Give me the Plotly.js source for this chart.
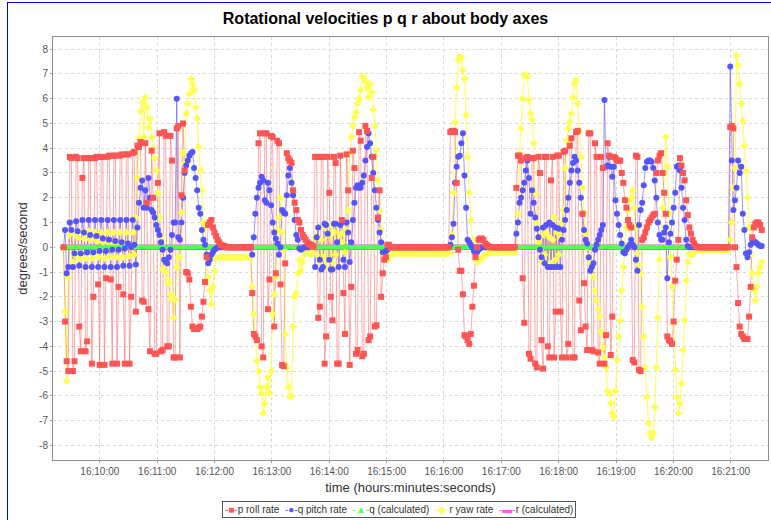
<!DOCTYPE html>
<html><head><meta charset="utf-8">
<script src="https://cdn.plot.ly/plotly-3.0.1.min.js"></script>
<style>
html,body{margin:0;padding:0;background:#fff;}
#chart{position:absolute;left:0;top:0;width:771px;height:520px;}
#frame{position:absolute;left:7px;top:2px;width:764px;height:518px;border-left:1px solid #0000ff;border-top:1px solid #0000ff;pointer-events:none;box-sizing:border-box;}
</style></head>
<body><div id="chart"></div><div id="frame"></div>
<script>
// sample clock: seconds after 16:00:00, one logged sample every ~1.65 s
const sampleStart = 562;
const sampleInterval = 1.645;

const pRollRate = [
 0,-3.0,-4.6,-5.0,3.65,3.6,-5.0,-4.6,3.65,3.6,-3.2,-4.2,2.8,3.6,-4.2,-3.8,3.6,3.6,-4.7,-2.0,
 3.6,3.65,-1.5,-4.75,3.65,3.65,-4.75,-1.25,3.65,3.7,-1.3,-4.7,3.7,3.7,-4.7,-1.6,3.7,3.75,-1.9,-4.7,
 3.75,3.75,-4.7,-2.0,3.8,3.85,-2.6,4.1,
 4.05,4.25,-2.15,-2.2,4.2,1.8,-2.5,-4.2,3.9,2.0,-4.3,-4.3,2.6,4.6,-4.2,-4.15,4.65,4.5,-4.0,-4.0,
 4.5,3.5,-4.45,-4.45,4.8,4.9,-4.45,2.1,5.0,3.1,-1.0,-1.05,-1.3,-2.4,-3.2,-3.3,-3.3,-3.3,-3.25,-3.2,
 -2.8,-2.2,-1.4,-0.4,0.9,1.0,1.1,0.8,0.6,0.45,0.3,0.2,0.1,0.08,
 0.05,0.03,0,0,0,0,0,0,0,0,0,0,0,0,0,0,
 0,0,-1.85,-3.5,-3.6,-3.75,4.2,4.6,-4.0,-4.45,4.6,4.6,-2.5,-1.3,4.5,4.45,-3.2,-1.05,4.3,4.2,
 -1.5,-4.75,-4.8,-0.65,3.8,3.6,3.5,3.4,2.3,1.8,1.5,1.1,1.0,0.7,0.5,0.4,0.3,0.2,0.15,0.1,0.05,0.02,
 3.65,3.65,-2.85,-2.4,3.65,3.65,-4.7,-3.6,3.65,2.2,-2.0,-2.95,3.65,3.4,-4.7,-4.7,3.7,1.1,-1.85,-3.5,
 3.75,2.3,-4.75,-1.6,3.9,3.2,-4.3,-4.15,4.65,4.3,-4.4,-4.3,4.9,4.7,-3.75,-3.6,2.8,3.65,-3.2,-3.15,
 1.2,2.3,-2.0,-1.05,-0.5,-0.4,0.1,0.1,0,0,
 0,0,0,0,0,0,0,0,0,0,0,0,0,0,0,0,0,0,0,0,0,0,0,0,0,0,0,0,0,0,0,0,0,0,0,0,
 4.65,4.7,4.7,4.65,2.6,-0.1,-0.95,-0.95,-1.9,-3.55,-3.6,-3.75,-3.9,-3.5,-2.4,-1.55,-0.4,0.0,0.3,0.35,
 0.35,0.3,0.15,0.1,0.05,0.02,0,0,
 0,0,0,0,0,0,0,0,0,0,0,0,0,0,
 2.4,3.7,3.7,3.5,-1.25,-3.05,3.6,3.65,-4.3,-4.5,3.6,3.6,-4.7,-4.85,3.65,3.0,-3.75,-4.9,3.65,3.65,
 -4.0,-4.45,2.7,3.65,-4.45,-2.6,3.7,3.7,-2.6,-4.45,3.85,3.9,-4.45,-3.9,4.1,4.4,-4.45,-4.45,4.65,4.7,
 -2.15,-3.35,1.35,-1.45,-3.2,-4.15,4.6,4.6,-4.15,-4.2,4.2,3.65,-4.25,-4.7,3.65,3.2,
 -4.7,-3.55,4.2,3.7,-4.35,-2.8,3.65,3.6,3.5,3.5,3.5,3.0,2.6,1.9,1.6,1.1,0.9,0.8,-4.55,-4.65,
 3.7,3.65,-4.95,-5.0,0.3,0.4,0.6,0.8,1.0,1.1,1.2,1.3,1.35,3.0,3.5,3.7,3.8,3.0,2.2,1.35,
 -3.6,-3.75,-3.8,-3.9,-3.0,-1.35,-0.5,0.3,3.6,3.3,3.0,2.7,1.9,1.3,0.8,0.55,0.3,0.15,0.05,0.02,0,0,
 0,0,0,0,0,0,0,0,0,0,0,0,0,0,0,0,0,0,
 4.85,4.9,4.8,0.0,-0.8,-2.25,-3.2,-3.5,-3.6,-3.7,-3.7,-3.7,-2.8,-1.6,0.4,0.8,0.95,1.0,1.0,0.9,0.7
];

const qPitchRate = [
 0,0.7,-1.05,-0.8,1.0,0.7,-0.8,-0.25,1.05,0.65,-0.75,-0.25,1.1,0.6,-0.8,-0.2,1.1,0.5,-0.8,-0.2,
 1.1,0.45,-0.8,-0.15,1.1,0.35,-0.8,-0.15,1.1,0.3,-0.8,-0.1,1.1,0.25,-0.8,-0.1,1.1,0.2,-0.75,-0.05,
 1.1,0.15,-0.75,0.0,1.1,0.1,-0.7,0.8,
 1.8,2.4,2.7,1.6,2.3,1.6,2.8,2.0,1.5,1.4,1.2,0.9,0.7,0.5,0.2,-0.1,-0.5,-0.6,-0.65,-0.4,
 -0.1,0.5,1.0,1.0,6.0,0.4,0.3,1.0,2.0,3.0,3.3,3.5,3.7,3.8,3.85,3.2,2.8,2.3,1.6,1.35,
 0.7,0.3,0.1,-0.3,-0.65,-0.5,-0.3,-0.2,-0.1,-0.05,0,0,0,0,
 0,0,0,0,0,0,0,0,0,0,0,0,0,0,0,0,
 0,0,-0.3,0.4,1.35,2.0,2.4,2.6,2.85,2.7,1.9,1.8,2.6,2.3,1.7,1.0,0.6,0.35,0.15,-0.3,
 0,1.5,1.4,1.35,2.1,2.9,3.2,2.6,2.1,1.1,0.5,0.3,-0.05,-0.1,-0.05,0,0,0,0,0.05,0.1,0.05,
 -0.8,0.4,0.8,-0.5,-0.9,-0.8,0.95,0.9,0.55,-0.5,-0.9,-0.9,0.95,0.95,0.2,-0.8,0.9,1.0,-0.5,-0.8,
 1.0,0.6,-0.6,0.2,1.1,1.8,2.4,2.5,2.4,2.4,2.6,2.9,3.5,4.05,4.6,4.2,3.65,3.0,2.3,1.6,
 1.1,0.6,0.2,-0.2,-0.2,-0.15,-0.1,0,0,0,
 0,0,0,0,0,0,0,0,0,0,0,0,0,0,0,0,0,0,0,0,0,0,0,0,0,0,0,0,0,0,0,0,0,0,0,0,
 0.1,0.4,0.95,2.6,3.25,3.65,3.7,4.2,4.6,2.9,1.6,0.3,0.2,0.1,0,-0.15,-0.25,-0.2,-0.1,-0.05,
 0,0,0,0,0,0,0,0,
 0,0,0,0,0,0,0,0,0,0,0,0,0,0,
 0.55,1.0,1.8,2.0,2.3,2.6,3.1,3.5,2.8,1.35,2.3,1.8,1.2,0.75,0.4,-0.1,-0.4,0.8,-0.65,0.9,
 -0.8,1.0,-0.8,0.9,-0.8,0.8,-0.8,0.75,-0.8,0.3,0.7,1.1,1.5,2.0,2.6,3.1,3.4,3.65,3.5,3.1,
 2.6,2.0,1.35,0.7,0.3,0.15,-0.4,-0.95,-0.8,-0.65,-0.1,0.1,0.3,0.5,0.7,0.9,
 5.95,3.25,3.3,3.65,3.25,2.85,3.25,1.9,1.35,0.9,0.5,0.15,-0.2,-0.25,-0.1,0.0,0.1,0.3,0.1,0.0,
 -0.5,-0.95,0.9,1.5,1.8,2.5,3.2,3.45,3.5,3.5,3.45,3.2,2.7,2.0,1.0,0.5,0.3,0.3,0.6,0.8,
 -1.25,0.2,0.55,1.0,1.6,2.2,3.25,3.3,3.1,2.4,1.6,1.1,0.3,0.05,0,0,0,0,0,0,0,0,
 0,0,0,0,0,0,0,0,0,0,0,0,0,0,0,0,0,0,
 7.3,3.5,1.5,1.9,2.4,3.5,3.0,3.25,1.35,0.7,-0.25,-0.4,-0.2,0.1,0.3,0.25,0.2,0.15,0.1,0.05,0.05
];

const qCalculated = [
 0,0,0,0,0,0,0,0,0,0,0,0,0,0,0,0,0,0,0,0, 0,0,0,0,0,0,0,0,0,0,0,0,0,0,0,0,0,0,0,0,
 0,0,0,0,0,0,0,0,0,0,0,0,0,0,0,0,0,0,0,0, 0,0,0,0,0,0,0,0,0,0,0,0,0,0,0,0,0,0,0,0,
 0,0,0,0,0,0,0,0,0,0,0,0,0,0,0,0,0,0,0,0, 0,0,0,0,0,0,0,0,0,0,0,0,0,0,0,0,0,0,0,0,
 0,0,0,0,0,0,0,0,0,0,0,0,0,0,0,0,0,0,0,0, 0,0,0,0,0,0,0,0,0,0,0,0,0,0,0,0,0,0,0,0,
 0,0,0,0,0,0,0,0,0,0,0,0,0,0,0,0,0,0,0,0, 0,0,0,0,0,0,0,0,0,0,0,0,0,0,0,0,0,0,0,0,
 0,0,0,0,0,0,0,0,0,0,0,0,0,0,0,0,0,0,0,0, 0,0,0,0,0,0,0,0,0,0,0,0,0,0,0,0,0,0,0,0,
 0,0,0,0,0,0,0,0,0,0,0,0,0,0,0,0,0,0,0,0, 0,0,0,0,0,0,0,0,0,0,0,0,0,0,0,0,0,0,0,0,
 0,0,0,0,0,0,0,0,0,0,0,0,0,0,0,0,0,0,0,0, 0,0,0,0,0,0,0,0,0,0,0,0,0,0,0,0,0,0,0,0,
 0,0,0,0,0,0,0,0,0,0,0,0,0,0,0,0,0,0,0,0, 0,0,0,0,0,0,0,0,0,0,0,0,0,0,0,0,0,0,0,0,
 0,0,0,0,0,0,0,0,0,0,0,0,0,0,0,0,0,0,0,0, 0,0,0,0,0,0,0,0,0,0,0,0,0,0,0,0,0,0,0,0,
 0,0,0,0,0
];

const rYawRate = [
 0,-2.6,-5.4,-1.2,0.5,0.6,-0.6,-0.3,0.6,0.4,-0.45,-0.25,0.6,0.35,-0.45,-0.2,0.65,0.3,-0.45,-0.2,
 0.6,0.25,-0.4,-0.15,0.6,0.2,-0.45,-0.1,0.6,0.15,-0.4,-0.1,0.6,0.1,-0.4,-0.05,0.6,0.1,-0.4,0,
 0.6,0.05,-0.35,0,0.6,-0.3,1.2,2.8,
 4.4,5.5,5.85,4.45,6.05,5.65,4.85,5.2,4.45,4.0,3.6,3.1,2.2,1.2,0.4,-0.9,-0.5,-1.0,-1.3,-1.45,
 -1.9,-2.1,-2.85,-2.1,-0.8,-0.4,-0.4,1.4,3.8,3.4,5.4,5.8,6.2,6.8,6.6,6.35,5.65,5.2,4.05,3.1,
 2.3,1.0,0.8,-0.4,-1.2,-1.75,-2.3,-1.6,-0.95,-0.45,-0.4,-0.4,-0.4,-0.4,
 -0.4,-0.4,-0.4,-0.4,-0.4,-0.4,-0.4,-0.4,-0.4,-0.4,-0.4,-0.4,-0.4,-0.4,-0.4,-0.4,
 -0.4,-0.4,-1.6,-2.7,-3.6,-4.6,-5.0,-5.65,-5.9,-6.7,-6.3,-5.65,-5.25,-5.9,-5.0,-2.7,-1.9,-1.2,0.7,1.2,
 2.0,0.6,-0.1,-3.5,-4.85,-5.65,-6.05,-6.0,-3.2,-2.0,-1.85,-1.05,-0.5,-0.95,-0.6,-0.3,-0.2,-0.1,-0.25,-0.3,-0.2,0.1,
 0.4,-0.3,0.8,-0.6,0.3,-0.4,0.8,-0.8,0.5,-0.5,0.9,-0.6,0.6,-0.3,0.9,-0.8,0.5,0.2,0.6,-0.2,
 0.7,1.5,3.8,4.45,4.9,5.25,5.45,5.8,6.0,6.35,6.9,6.85,6.7,6.45,6.05,6.6,6.25,5.55,4.9,3.9,
 2.7,1.5,0.7,0.0,-0.3,-0.5,-0.5,-0.4,-0.3,-0.25,
 -0.25,-0.25,-0.25,-0.25,-0.25,-0.25,-0.25,-0.25,-0.25,-0.25,-0.25,-0.25,-0.25,-0.25,-0.25,-0.25,-0.25,-0.25,
 -0.25,-0.25,-0.25,-0.25,-0.25,-0.25,-0.25,-0.25,-0.25,-0.25,-0.25,-0.25,-0.25,-0.25,-0.25,-0.25,-0.25,-0.25,
 -0.2,0.5,2.2,5.05,6.45,7.55,7.7,7.65,7.15,6.8,5.35,3.65,2.2,1.1,0.3,-0.25,-0.45,-0.6,-0.55,-0.5,
 -0.45,-0.4,-0.3,-0.25,-0.2,-0.2,-0.2,-0.2,
 -0.2,-0.2,-0.2,-0.2,-0.2,-0.2,-0.2,-0.2,-0.2,-0.2,-0.2,-0.2,-0.2,-0.2,
 0.0,1.35,3.8,4.8,6.0,6.95,6.95,6.9,5.95,5.4,5.15,4.2,2.2,1.0,0.2,-0.1,-0.6,0.5,-0.3,0.6,
 -0.7,0.4,-0.65,0.3,1.2,-0.5,0.6,-0.3,0.4,1.0,1.5,3.2,4.3,4.8,5.05,5.4,6.05,6.6,6.75,5.8,
 4.7,3.65,2.4,1.4,0.55,0.0,-0.4,-0.65,-0.9,-1.2,-1.75,-2.15,-2.5,-2.8,-3.4,-4.05,
 -4.45,-4.85,-5.8,-5.9,-6.3,-6.7,-6.85,-5.8,-4.55,-3.6,-2.95,-1.75,-0.8,0.0,0.8,1.5,1.9,2.0,2.3,1.6,
 0.8,-0.25,-0.7,-1.05,-2.4,-3.6,-4.85,-6.05,-7.1,-7.5,-7.7,-7.5,-6.45,-4.85,-2.85,-0.5,0.5,1.6,3.0,4.45,
 3.25,1.4,-0.4,-1.6,-3.05,-4.95,-6.05,-6.7,-6.3,-5.5,-4.15,-2.95,-1.35,-0.6,-0.25,-0.3,-0.3,-0.2,-0.15,-0.1,
 -0.1,-0.1,
 -0.1,-0.1,-0.1,-0.1,-0.1,-0.1,-0.1,-0.1,-0.1,-0.1,-0.1,-0.1,-0.1,-0.1,-0.1,-0.1,-0.1,-0.1,
 0.3,1.0,2.4,3.2,7.75,7.35,6.6,5.8,5.1,4.1,3.1,2.0,0.8,-0.3,-1.05,-1.75,-2.15,-1.6,-1.05,-0.8,-0.6
];

const rCalculated = [
 0,0,0,0,0,0,0,0,0,0,0,0,0,0,0,0,0,0,0,0, 0,0,0,0,0,0,0,0,0,0,0,0,0,0,0,0,0,0,0,0,
 0,0,0,0,0,0,0,0,0,0,0,0,0,0,0,0,0,0,0,0, 0,0,0,0,0,0,0,0,0,0,0,0,0,0,0,0,0,0,0,0,
 0,0,0,0,0,0,0,0,0,0,0,0,0,0,0,0,0,0,0,0, 0,0,0,0,0,0,0,0,0,0,0,0,0,0,0,0,0,0,0,0,
 0,0,0,0,0,0,0,0,0,0,0,0,0,0,0,0,0,0,0,0, 0,0,0,0,0,0,0,0,0,0,0,0,0,0,0,0,0,0,0,0,
 0,0,0,0,0,0,0,0,0,0,0,0,0,0,0,0,0,0,0,0, 0,0,0,0,0,0,0,0,0,0,0,0,0,0,0,0,0,0,0,0,
 0,0,0,0,0,0,0,0,0,0,0,0,0,0,0,0,0,0,0,0, 0,0,0,0,0,0,0,0,0,0,0,0,0,0,0,0,0,0,0,0,
 0,0,0,0,0,0,0,0,0,0,0,0,0,0,0,0,0,0,0,0, 0,0,0,0,0,0,0,0,0,0,0,0,0,0,0,0,0,0,0,0,
 0,0,0,0,0,0,0,0,0,0,0,0,0,0,0,0,0,0,0,0, 0,0,0,0,0,0,0,0,0,0,0,0,0,0,0,0,0,0,0,0,
 0,0,0,0,0,0,0,0,0,0,0,0,0,0,0,0,0,0,0,0, 0,0,0,0,0,0,0,0,0,0,0,0,0,0,0,0,0,0,0,0,
 0,0,0,0,0,0,0,0,0,0,0,0,0,0,0,0,0,0,0,0, 0,0,0,0,0,0,0,0,0,0,0,0,0,0,0,0,0,0,0,0,
 0,0,0,0,0
];

const seriesNames = ['p roll rate','q pitch rate','q (calculated)','r yaw rate','r (calculated)'];
const seriesColors = ['#ff5555','#5555ff','#55ff55','#ffff55','#ff55ff'];
const legendGlyphs = ['\u25A0','\u25CF','\u25B2','\u25C6','\u25AC'];

const xTickVals = [600,660,720,780,840,900,960,1020,1080,1140,1200,1260];
const xTickText = ['16:10:00','16:11:00','16:12:00','16:13:00','16:14:00','16:15:00','16:16:00','16:17:00','16:18:00','16:19:00','16:20:00','16:21:00'];
const yTickVals = [-8,-7,-6,-5,-4,-3,-2,-1,0,1,2,3,4,5,6,7,8];
const yTickText = ['-8','-7','-6','-5','-4','-3','-2','-1','0','1','2','3','4','5','6','7','8'];

const timesFor = arr => arr.map((_, i) => sampleStart + i * sampleInterval);

const series = [
  {y: pRollRate, color: seriesColors[0], line: 'rgba(255,85,85,0.5)', symbol: 'square', size: 6},
  {y: qPitchRate, color: seriesColors[1], line: 'rgba(85,85,255,0.6)', symbol: 'circle', size: 6},
  {y: qCalculated, color: seriesColors[2], line: 'rgba(85,255,85,0.9)', symbol: 'triangle-up', size: 6},
  {y: rYawRate, color: seriesColors[3], line: 'rgba(255,255,60,0.9)', symbol: 'diamond', size: 6},
  {y: rCalculated, color: seriesColors[4], line: 'rgba(255,85,255,0.8)', symbol: 'square', size: 5}
];
// JFreeChart-style: all lines first, then all shapes; first series on top
const drawOrder = [4,3,2,1,0];
const traces = [];
drawOrder.forEach(k => {
  const s = series[k];
  traces.push({x: timesFor(s.y), y: s.y, type: 'scatter', mode: 'lines', name: seriesNames[k],
    line: {color: s.line, width: 1}, showlegend: false, hoverinfo: 'skip'});
});
drawOrder.forEach(k => {
  const s = series[k];
  traces.push({x: timesFor(s.y), y: s.y, type: 'scatter', mode: 'markers', name: seriesNames[k],
    marker: {color: s.color, symbol: s.symbol, size: s.size, line: {width: 0}}, showlegend: false, hoverinfo: 'skip'});
});

const legendText = seriesNames.map((n, i) =>
  '<span style="color:' + seriesColors[i] + '">-' + legendGlyphs[i] + '-</span>' + n).join('&nbsp;&nbsp;');

const layout = {
  width: 771, height: 520,
  margin: {l: 53, r: 3, t: 37, b: 60},
  paper_bgcolor: '#ffffff', plot_bgcolor: '#ffffff',
  showlegend: false,
  title: {text: '<b>Rotational velocities p q r about body axes</b>', x: 0.5, xref: 'container', xanchor: 'center',
    y: 1 - 18/520, yref: 'container', yanchor: 'middle',
    font: {family: 'Liberation Sans, Arial, sans-serif', size: 16, color: '#000000'}},
  xaxis: {
    range: [551, 1299], tickvals: xTickVals, ticktext: xTickText,
    tickfont: {family: 'Liberation Sans, Arial, sans-serif', size: 10, color: '#555555'},
    ticks: 'outside', ticklen: 2, tickcolor: '#999999',
    showgrid: true, gridcolor: '#d8d8d8', griddash: 'dot', gridwidth: 1,
    zeroline: false, showline: true, linecolor: '#909090', linewidth: 1, mirror: true,
    automargin: false,
    title: {text: 'time (hours:minutes:seconds)', standoff: 6,
      font: {family: 'Liberation Sans, Arial, sans-serif', size: 13, color: '#333333'}}
  },
  yaxis: {
    range: [-8.59, 8.49], tickvals: yTickVals, ticktext: yTickText,
    tickfont: {family: 'Liberation Sans, Arial, sans-serif', size: 10, color: '#555555'},
    ticks: 'outside', ticklen: 2, tickcolor: '#999999',
    showgrid: true, gridcolor: '#d8d8d8', griddash: 'dot', gridwidth: 1,
    zeroline: false, showline: true, linecolor: '#909090', linewidth: 1, mirror: true,
    automargin: false,
    title: {text: 'degrees/second', standoff: 8,
      font: {family: 'Liberation Sans, Arial, sans-serif', size: 13, color: '#333333'}}
  },
  annotations: [{
    text: legendText, xref: 'paper', yref: 'paper',
    x: (399 - 53) / 715, y: (460 - 509.5) / 423, xanchor: 'center', yanchor: 'middle',
    showarrow: false, bgcolor: '#ffffff', bordercolor: '#555555', borderwidth: 1, borderpad: 2,
    font: {family: 'Liberation Sans, Arial, sans-serif', size: 10, color: '#333333'}
  }]
};

Plotly.newPlot('chart', traces, layout, {staticPlot: true, displayModeBar: false});
</script>
</body></html>
